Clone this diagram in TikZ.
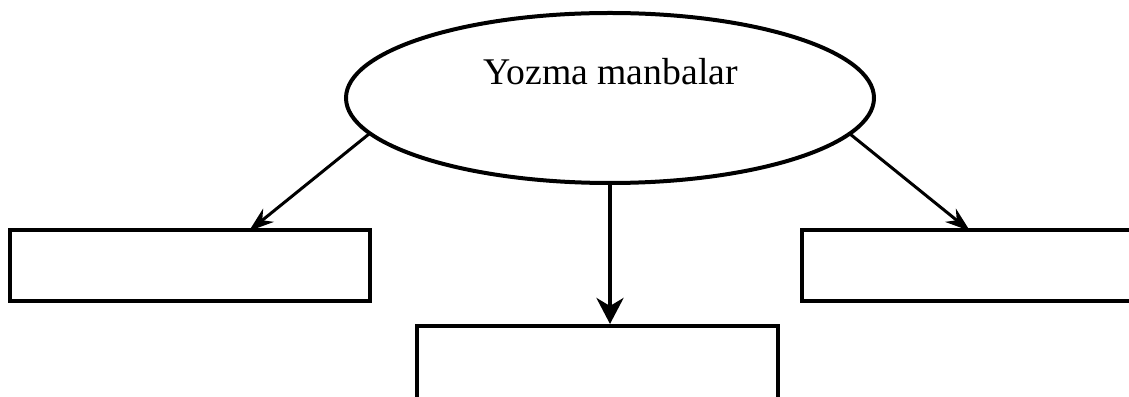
\documentclass[tikz,border=0pt]{standalone}
\usepackage{fontspec}
\setmainfont{Liberation Serif}
\usetikzlibrary{arrows.meta,shapes.geometric}
\tikzset{
  oval/.style={draw=black,line width=4pt,shape=ellipse,inner sep=0pt,minimum width=528pt,minimum height=170pt},
  blank/.style={draw=black,line width=4pt,shape=rectangle,inner sep=0pt},
  thinlink/.style={draw=black,line width=3pt,-{Stealth[length=25pt,width=17pt,inset=8pt]}},
  thicklink/.style={draw=black,line width=4pt,-{Stealth[length=26pt,width=27pt,inset=8pt]}},
  caption/.style={font=\fontsize{37.7pt}{40pt}\selectfont,text=black,inner sep=0pt,anchor=base}
}
\begin{document}
\begin{tikzpicture}[x=1pt,y=1pt]
\useasboundingbox (0,0) rectangle (1129,396);
\clip (0,0) rectangle (1129,396);
\node[oval] (src) at (610,298) {};
\node[caption] (title) at (610.5,311.5) {Yozma manbalar};
\node[blank,minimum width=360pt,minimum height=71pt] (left) at (190,130.5) {};
\node[blank,minimum width=361pt,minimum height=120pt] (mid) at (597.5,10) {};
\node[blank,minimum width=400pt,minimum height=71pt] (right) at (1002,130.5) {};
\coordinate (lstart) at (369,262);
\coordinate (lend) at (249,165);
\coordinate (rstart) at (850,262);
\coordinate (rend) at (970,165);
\draw[thinlink] (lstart) -- (lend);
\draw[thinlink] (rstart) -- (rend);
\draw[thicklink] (src.south) -- (src.south |- mid.north);
\end{tikzpicture}
\end{document}
